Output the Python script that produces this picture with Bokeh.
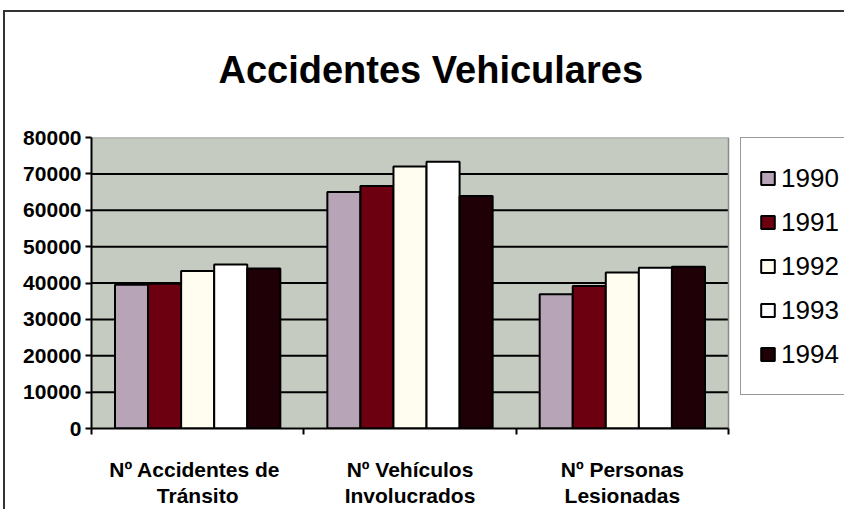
from bokeh.plotting import figure
from bokeh.models import ColumnDataSource, FixedTicker, Legend, LegendItem, LinearAxis
from bokeh.transform import dodge
from bokeh.embed import file_html
from bokeh.resources import INLINE

categories = ["Nº Accidentes  de\nTránsito", "Nº Vehículos\nInvolucrados", "Nº Personas\nLesionadas"]
years = ["1990", "1991", "1992", "1993", "1994"]
v1990 = [39500, 65000, 36900]
v1991 = [39800, 66700, 39200]
v1992 = [43300, 72000, 42900]
v1993 = [45100, 73300, 44200]
v1994 = [44000, 63900, 44500]
y_ticks = [0, 10000, 20000, 30000, 40000, 50000, 60000, 70000, 80000]

colors = ["#b8a4b7", "#6c0010", "#fffdf0", "#ffffff", "#1e0006"]
series = [v1990, v1991, v1992, v1993, v1994]

n = len(categories)
pos = [i + 0.5 for i in range(n)]
data = {"x": pos}
for yr, vals in zip(years, series):
    data[yr] = vals
src = ColumnDataSource(data)

FONT = "Liberation Sans"
DATA_W = 637          # pixel width of the bar area
FW, FH = 753, 291     # frame also holds the legend on its right
Y0, Y1 = y_ticks[0], y_ticks[-1]

p = figure(frame_width=FW, frame_height=FH, x_range=(0, n * FW / DATA_W), y_range=(Y0, Y1),
           output_backend="svg", toolbar_location=None,
           min_border_left=91, min_border_right=0, min_border_top=135, min_border_bottom=78)
p.background_fill_color = "white"
p.border_fill_alpha = 0
p.outline_line_color = None
p.styles = {
    "background": "linear-gradient(#333, #333) 3px 10px / 2px 100% no-repeat, "
                  "linear-gradient(#333, #333) 3px 10px / 100% 2px no-repeat, white"
}

p.title.text = "Accidentes Vehiculares"
p.title.align = "left"
p.title.offset = 127
p.title.text_font = FONT
p.title.text_font_style = "bold"
p.title.text_font_size = "38px"
p.title.text_color = "black"
p.title.standoff = 93

# plot-area background and its edges
p.quad(left=0, right=n, bottom=Y0, top=Y1, fill_color="#c5cbc0", line_color=None)
inner = y_ticks[1:-1]
p.segment(x0=[0] * len(inner), x1=[n] * len(inner), y0=inner, y1=inner,
          line_color="black", line_width=2)
p.segment(x0=[0, n], x1=[n, n], y0=[Y1, Y0], y1=[Y1, Y1], line_color="#8a8a8a", line_width=1.5)

bw = 0.1557
renderers = []
for i, (yr, c) in enumerate(zip(years, colors)):
    r = p.vbar(x=dodge("x", (i - 2) * bw, range=p.x_range), top=yr, width=bw, source=src,
               fill_color=c, line_color="black", line_width=2)
    renderers.append(r)

p.xgrid.grid_line_color = None
p.ygrid.grid_line_color = None

# y axis
p.yaxis.ticker = FixedTicker(ticks=y_ticks)
p.yaxis.formatter.use_scientific = False
p.yaxis.major_label_text_font = FONT
p.yaxis.major_label_text_font_style = "bold"
p.yaxis.major_label_text_font_size = "21px"
p.yaxis.major_label_text_color = "black"
p.yaxis.axis_line_color = "black"
p.yaxis.axis_line_width = 2
p.yaxis.major_tick_line_color = "black"
p.yaxis.major_tick_line_width = 2
p.yaxis.major_tick_out = 6
p.yaxis.major_tick_in = 0
p.yaxis.minor_tick_line_color = None
p.yaxis.major_label_standoff = 4

# x axis: first label line on the main axis, second line on an extra axis
line1 = {pos[i]: categories[i].split("\n")[0] for i in range(n)}
line2 = {pos[i]: categories[i].split("\n")[1] for i in range(n)}

def style_x(ax):
    ax.major_label_text_font = FONT
    ax.major_label_text_font_style = "bold"
    ax.major_label_text_font_size = "21px"
    ax.major_label_text_color = "black"
    ax.major_tick_line_color = None
    ax.bounds = (0, n)

p.xaxis.ticker = FixedTicker(ticks=pos, minor_ticks=list(range(n + 1)))
p.xaxis.major_label_overrides = line1
style_x(p.xaxis[0])
p.xaxis.axis_line_color = "black"
p.xaxis.axis_line_width = 2
p.xaxis.minor_tick_line_color = "black"
p.xaxis.minor_tick_line_width = 2
p.xaxis.minor_tick_out = 6
p.xaxis.minor_tick_in = 0
p.xaxis.major_label_standoff = 23

ax2 = LinearAxis(ticker=FixedTicker(ticks=pos), major_label_overrides=line2)
style_x(ax2)
ax2.axis_line_color = None
ax2.minor_tick_line_color = None
ax2.major_tick_out = 0
ax2.major_tick_in = 0
ax2.minor_tick_out = 0
ax2.major_label_standoff = 0
p.add_layout(ax2, "below")

LH = 256
legend = Legend(items=[LegendItem(label=yr, renderers=[r]) for yr, r in zip(years, renderers)],
                location=(DATA_W + 12, FH - 2 - LH))
legend.label_text_font = FONT
legend.label_text_font_size = "26px"
legend.label_text_color = "black"
legend.glyph_width = 17
legend.glyph_height = 16
legend.label_height = 44
legend.spacing = 0
legend.padding = 18
legend.label_standoff = 5
legend.margin = 0
legend.border_line_color = "#333333"
legend.border_line_width = 1
legend.background_fill_color = "white"
p.add_layout(legend)

open("out.html", "w").write(file_html(p, INLINE))
